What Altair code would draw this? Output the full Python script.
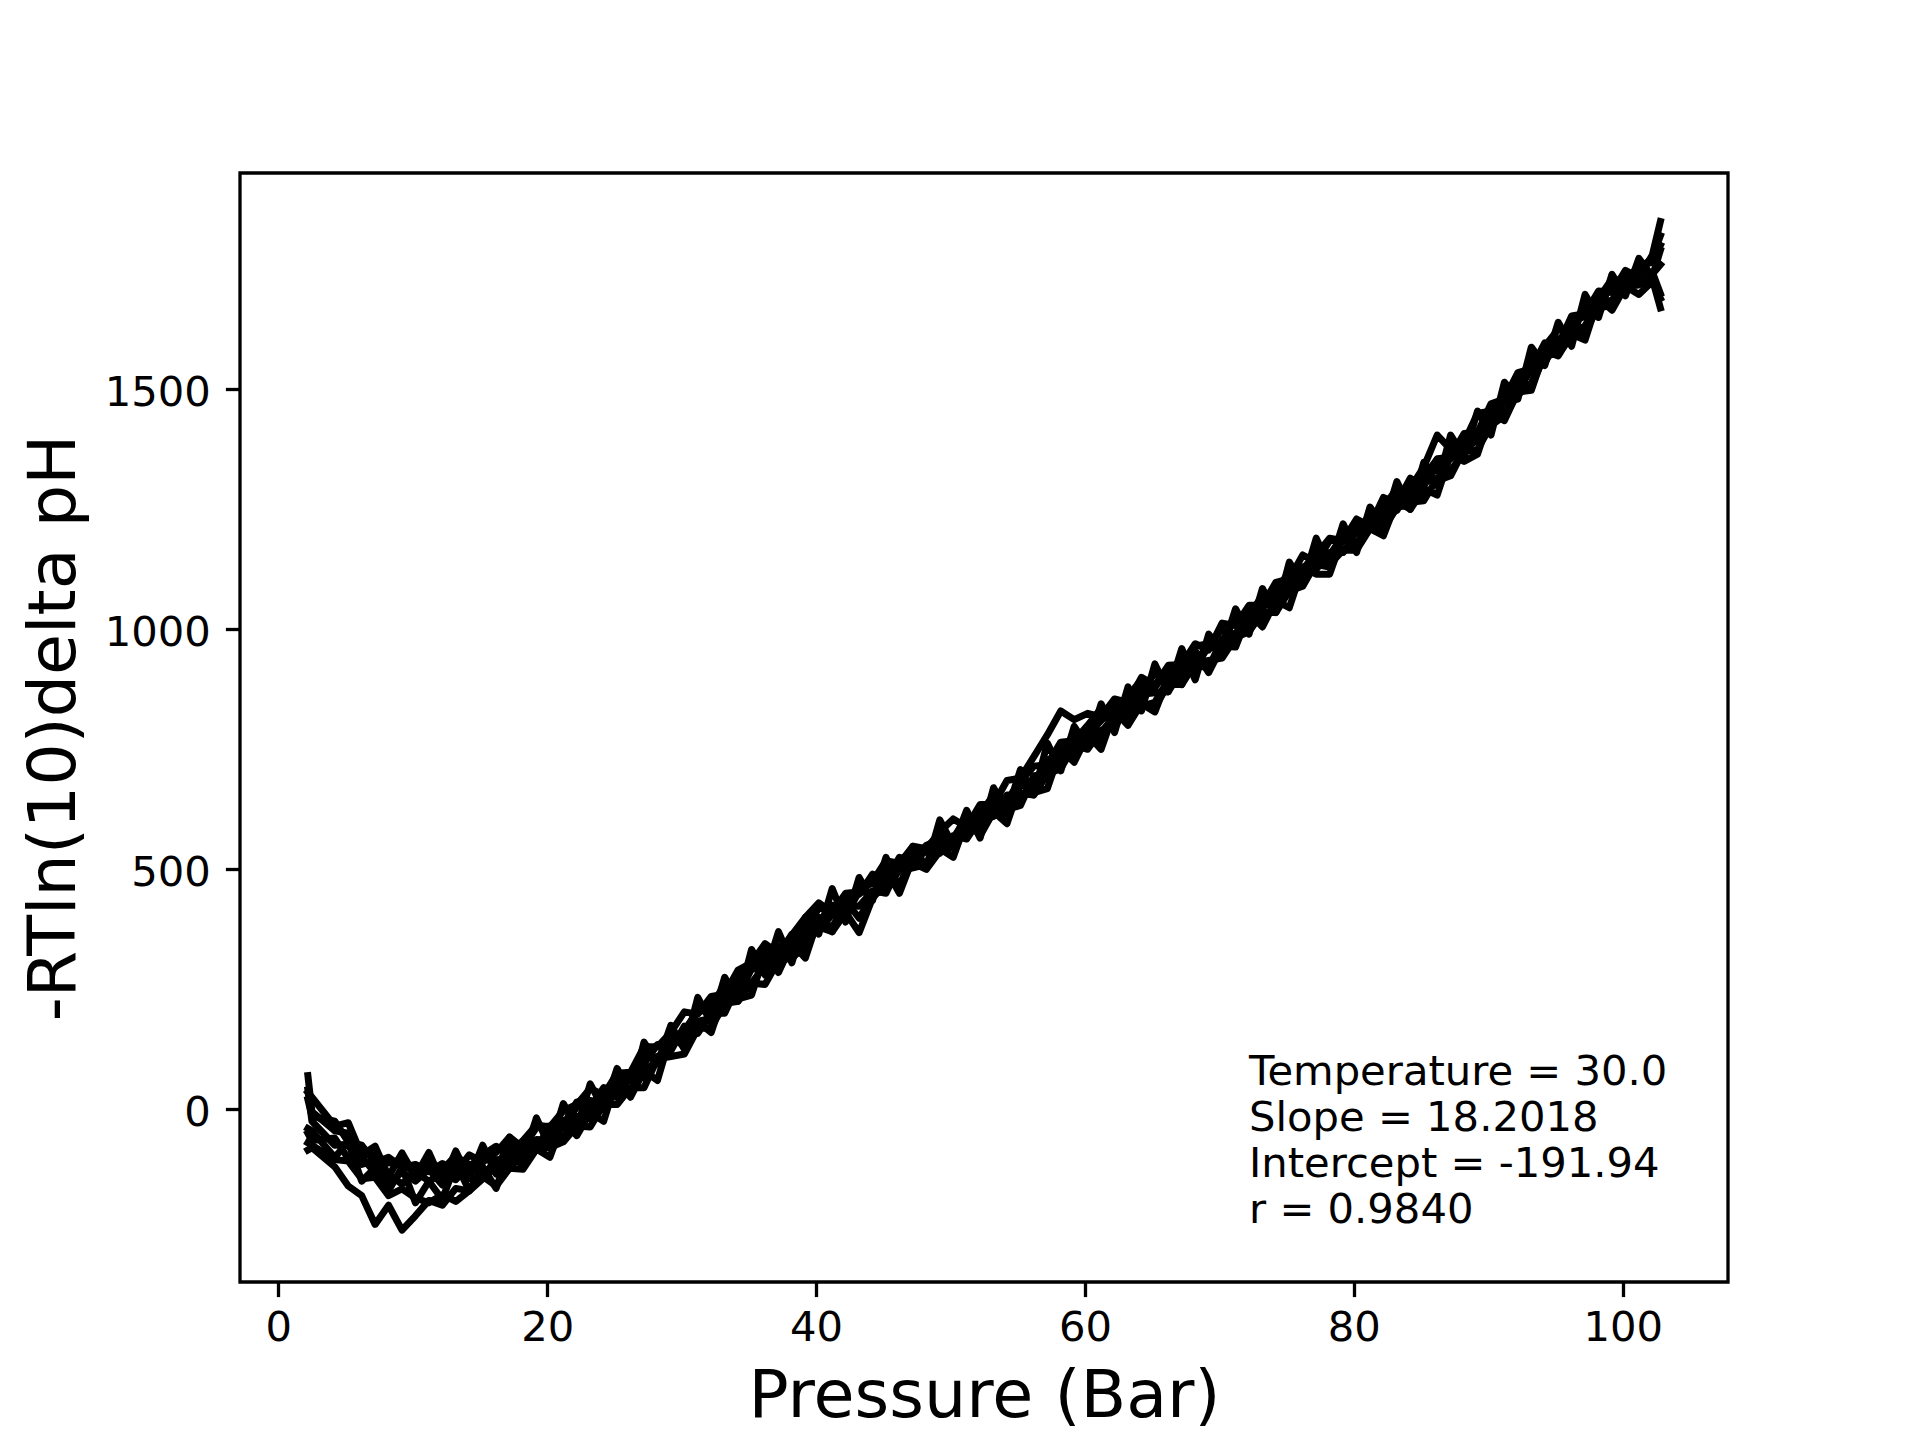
import altair as alt
import pandas as pd

# Pressure readings (Bar), shared by all runs
pressure = [2.2, 2.5, 4.2, 5.2, 6.2, 7.2, 8.2, 9.2, 10.2, 11.2,
            12.2, 13.2, 14.2, 15.2, 16.2, 17.2, 18.2, 19.2, 20.2, 21.2,
            22.2, 23.2, 24.2, 25.2, 26.2, 27.2, 28.2, 29.2, 30.2, 31.2,
            32.2, 33.2, 34.2, 35.2, 36.2, 37.2, 38.2, 39.2, 40.2, 41.2,
            42.2, 43.2, 44.2, 45.2, 46.2, 47.2, 48.2, 49.2, 50.2, 51.2,
            52.2, 53.2, 54.2, 55.2, 56.2, 57.2, 58.2, 59.2, 60.2, 61.2,
            62.2, 63.2, 64.2, 65.2, 66.2, 67.2, 68.2, 69.2, 70.2, 71.2,
            72.2, 73.2, 74.2, 75.2, 76.2, 77.2, 78.2, 79.2, 80.2, 81.2,
            82.2, 83.2, 84.2, 85.2, 86.2, 87.2, 88.2, 89.2, 90.2, 91.2,
            92.2, 93.2, 94.2, 95.2, 96.2, 97.2, 98.2, 99.2, 100.2, 101.2,
            102.2, 102.8]

run_a = [70, -5, -45, -50, -95, -95, -112, -105, -138, -110,
         -126, -97, -120, -95, -77, -95, -65, -33, -37, -3,
         10, 43, 30, 75, 77, 130, 130, 160, 203, 198,
         235, 240, 290, 305, 345, 325, 363, 400, 430, 410,
         450, 453, 475, 518, 512, 548, 543, 578, 605, 588,
         635, 635, 685, 690, 735, 780, 830, 812, 825, 818,
         855, 848, 900, 883, 925, 927, 970, 957, 1013, 1008,
         1050, 1050, 1098, 1105, 1155, 1140, 1185, 1185, 1230, 1215,
         1275, 1263, 1315, 1298, 1355, 1360, 1408, 1410, 1470, 1480,
         1535, 1543, 1597, 1592, 1653, 1658, 1705, 1702, 1748, 1733,
         1780, 1850]

run_b = [-85, -80, -120, -160, -180, -240, -200, -252, -222, -190,
         -200, -165, -170, -145, -120, -120, -95, -85, -55, -58,
         -15, -20, 27, 25, 75, 65, 110, 122, 173, 158,
         200, 200, 260, 263, 300, 340, 315, 355, 390, 380,
         425, 423, 455, 450, 510, 503, 510, 558, 550, 583,
         580, 625, 625, 633, 695, 698, 710, 758, 750, 790,
         795, 845, 840, 848, 895, 890, 925, 920, 980, 978,
         1015, 1015, 1055, 1095, 1095, 1135, 1130, 1190, 1180, 1215,
         1215, 1258, 1255, 1308, 1310, 1320, 1375, 1395, 1445, 1450,
         1500, 1513, 1575, 1580, 1620, 1628, 1685, 1685, 1715, 1718,
         1745, 1700]

run_c = [40, -25, -75, -73, -115, -107, -155, -131, -150, -125,
         -158, -127, -135, -100, -110, -113, -70, -78, -40, -38,
         5, 3, 45, 35, 70, 115, 100, 150, 160, 208,
         215, 260, 250, 298, 335, 320, 365, 370, 420, 415,
         445, 448, 490, 475, 515, 543, 535, 573, 560, 603,
         615, 655, 645, 683, 715, 718, 765, 768, 800, 835,
         825, 860, 895, 878, 920, 925, 965, 970, 975, 1023,
         1030, 1070, 1070, 1115, 1115, 1155, 1190, 1185, 1220, 1220,
         1255, 1293, 1290, 1328, 1330, 1380, 1390, 1450, 1455, 1475,
         1530, 1548, 1590, 1625, 1625, 1673, 1690, 1730, 1725, 1758,
         1765, 1800]

run_d = [-50, -65, -60, -103, -100, -132, -135, -156, -130, -150,
         -133, -147, -115, -140, -105, -103, -110, -63, -65, -23,
         -30, 18, 0, 45, 35, 85, 95, 155, 150, 183,
         190, 235, 235, 293, 290, 320, 325, 380, 375, 405,
         405, 453, 450, 455, 500, 503, 545, 533, 570, 563,
         605, 610, 655, 648, 685, 718, 715, 753, 790, 785,
         820, 820, 865, 868, 870, 915, 920, 965, 955, 993,
         1005, 1050, 1050, 1085, 1130, 1125, 1160, 1160, 1205, 1210,
         1240, 1248, 1295, 1338, 1405, 1375, 1370, 1410, 1420, 1480,
         1495, 1543, 1555, 1605, 1615, 1633, 1680, 1685, 1730, 1728,
         1740, 1760]

run_e = [20, -15, -25, -68, -75, -112, -100, -121, -115, -130,
         -113, -132, -95, -110, -90, -58, -80, -38, -35, -33,
         15, 18, 15, 60, 60, 95, 135, 130, 165, 203,
         210, 220, 270, 308, 300, 340, 345, 395, 390, 425,
         420, 463, 470, 475, 525, 518, 550, 563, 565, 608,
         610, 645, 645, 678, 680, 728, 740, 783, 780, 810,
         840, 840, 875, 908, 900, 935, 930, 970, 1000, 988,
         1040, 1045, 1080, 1120, 1125, 1160, 1155, 1195, 1200, 1240,
         1245, 1278, 1275, 1318, 1355, 1355, 1395, 1405, 1460, 1485,
         1510, 1563, 1580, 1595, 1640, 1653, 1670, 1720, 1720, 1748,
         1775, 1820]

run_f = [-70, -75, -105, -108, -145, -142, -180, -166, -185, -195,
         -178, -192, -170, -140, -160, -123, -125, -83, -80, -68,
         -35, -37, 10, 10, 45, 45, 105, 110, 115, 168,
         170, 220, 225, 263, 260, 310, 315, 340, 380, 370,
         410, 368, 440, 470, 470, 513, 500, 538, 545, 588,
         585, 620, 615, 658, 655, 698, 735, 733, 770, 770,
         815, 810, 845, 838, 885, 885, 930, 935, 940, 983,
         995, 1035, 1035, 1080, 1090, 1140, 1135, 1165, 1165, 1210,
         1210, 1253, 1265, 1268, 1315, 1330, 1370, 1375, 1425, 1445,
         1490, 1508, 1570, 1575, 1610, 1623, 1670, 1675, 1715, 1718,
         1730, 1670]

run_g = [35, 25, -35, -28, -95, -77, -140, -91, -140, -90,
         -153, -87, -145, -75, -135, -58, -105, -18, -80, 12,
         -40, 53, 0, 85, 30, 140, 95, 175, 125, 233,
         180, 275, 225, 333, 280, 370, 305, 400, 365, 460,
         390, 483, 435, 525, 460, 548, 505, 603, 550, 623,
         565, 670, 620, 708, 655, 763, 705, 798, 755, 845,
         785, 880, 830, 928, 870, 960, 895, 990, 955, 1043,
         990, 1085, 1035, 1140, 1095, 1190, 1130, 1220, 1160, 1255,
         1215, 1308, 1250, 1348, 1300, 1405, 1360, 1455, 1405, 1515,
         1480, 1588, 1550, 1640, 1590, 1698, 1650, 1740, 1695, 1773,
         1735, 1790]

run_h = [-40, -45, -100, -68, -150, -122, -170, -121, -195, -150,
         -188, -112, -170, -120, -165, -83, -120, -83, -100, -23,
         -55, -7, -25, 65, 25, 80, 60, 155, 130, 183,
         160, 245, 230, 238, 325, 285, 345, 315, 400, 370,
         435, 398, 445, 500, 450, 523, 505, 543, 525, 603,
         570, 620, 595, 678, 660, 668, 750, 723, 780, 750,
         830, 800, 845, 828, 900, 885, 955, 910, 965, 963,
         1035, 1005, 1060, 1045, 1130, 1115, 1115, 1195, 1170, 1210,
         1195, 1268, 1250, 1293, 1280, 1365, 1350, 1365, 1450, 1435,
         1495, 1498, 1580, 1570, 1615, 1603, 1690, 1665, 1715, 1698,
         1725, 1690]

x_ticks = [0, 20, 40, 60, 80, 100]
y_ticks = [0, 500, 1000, 1500]
annotation_lines = ["Temperature = 30.0", "Slope = 18.2018",
                    "Intercept = -191.94", "r = 0.9840"]

runs = {"a": run_a, "b": run_b, "c": run_c, "d": run_d,
        "e": run_e, "f": run_f, "g": run_g, "h": run_h}
rows = []
for name, vals in runs.items():
    for i, (p, v) in enumerate(zip(pressure, vals)):
        rows.append({"pressure": p, "value": v, "run": name, "idx": i})
df = pd.DataFrame(rows)

FONT = "DejaVu Sans"

lines = alt.Chart(df).mark_line(
    color="black", strokeWidth=7, strokeJoin="round", strokeCap="square"
).encode(
    x=alt.X("pressure:Q",
            scale=alt.Scale(domain=[-2.85, 107.83], nice=False, zero=False),
            axis=alt.Axis(values=x_ticks, format="d", title="Pressure (Bar)")),
    y=alt.Y("value:Q",
            scale=alt.Scale(domain=[-360, 1951], nice=False, zero=False),
            axis=alt.Axis(values=y_ticks, format="d", title="-RTln(10)delta pH")),
    detail="run:N",
    order="idx:Q",
)

notes = alt.Chart(pd.DataFrame({"k": [0]})).mark_text(
    text=annotation_lines, align="left", baseline="alphabetic",
    fontSize=41.7, lineHeight=46, font=FONT, color="black"
).encode(x=alt.value(1009), y=alt.value(912))

chart = alt.layer(lines, notes).properties(
    width=1488, height=1109,
    autosize=alt.AutoSizeParams(type="none"),
    padding={"left": 232, "top": 165, "right": 184, "bottom": 150},
    background="white",
).configure_view(
    stroke="black", strokeWidth=3.3
).configure_axis(
    domain=False, grid=False, ticks=True, tickColor="black", tickWidth=3.3,
    tickSize=14.6, labelFont=FONT, labelFontSize=41.7, labelColor="black",
    titleFont=FONT, titleFontSize=66.7, titleFontWeight="normal",
    titleColor="black"
).configure_axisX(
    labelPadding=10.4, titlePadding=15
).configure_axisY(
    labelPadding=15, titlePadding=16, labelOffset=3
)

chart.save("out.html", embed_options={"renderer": "svg", "actions": False})
